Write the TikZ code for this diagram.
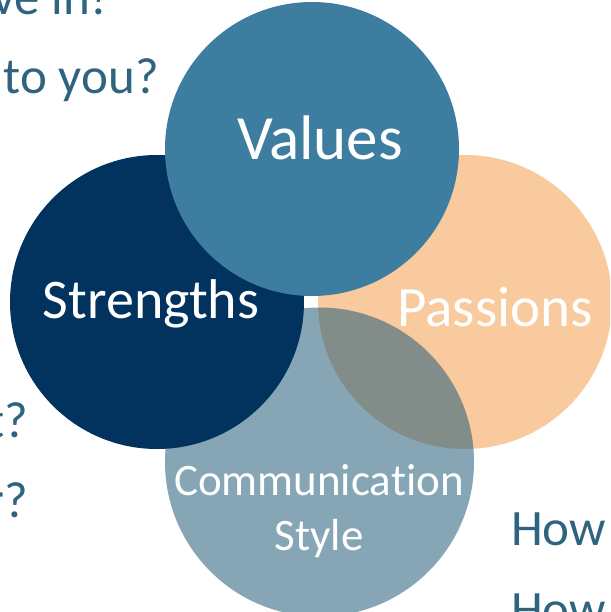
\documentclass[tikz,border=0pt]{standalone}
\usepackage{fontspec}
\setmainfont{Carlito}[Ligatures=NoCommon]
\definecolor{valuesblue}{RGB}{61,126,160}
\definecolor{strengthnavy}{RGB}{2,50,94}
\definecolor{passionpeach}{RGB}{248,202,157}
\definecolor{stylegrey}{RGB}{39,94,123}
\definecolor{asktext}{RGB}{46,100,128}
\tikzset{
  inword/.style={text=white,inner sep=0pt},
  askline/.style={text=asktext,inner sep=0pt,font=\fontsize{51}{51}\selectfont}
}
\begin{document}
\begin{tikzpicture}[x=1pt,y=-1pt]
\clip (0,0) rectangle (610,612);

% questions around the circles
\node[askline,anchor=base east] (q1) at (107,15) {ve in!};
\node[askline,anchor=base east] (q2) at (159,94) {to you?};
\node[askline,anchor=base east] (q3) at (28,437) {t?};
\node[askline,anchor=base east] (q4) at (28,517) {r?};
\node[askline,anchor=base west] (q5) at (511,545) {How};
\node[askline,anchor=base west] (q6) at (511,626) {How};

% circles
\fill[passionpeach] (465,302) circle (147);
\fill[stylegrey,fill opacity=0.56] (319.5,462) circle (154.5);
\fill[strengthnavy] (157,302) circle (147);
\fill[valuesblue] (312,149) circle (147);

\node[inword,anchor=base,font=\fontsize{63}{63}\selectfont] (values) at (320,160) {Values};
\node[inword,anchor=base,font=\fontsize{56}{56}\selectfont] (strengths) at (151,318) {Strengths};
\node[inword,anchor=base,font=\fontsize{57}{57}\selectfont] (passions) at (495,326) {Passions};
\node[inword,anchor=base,font=\fontsize{45}{45}\selectfont] (comm) at (319,495) {Communication};
\node[inword,anchor=base,font=\fontsize{45}{45}\selectfont] (style) at (319,550) {Style};
\end{tikzpicture}
\end{document}
